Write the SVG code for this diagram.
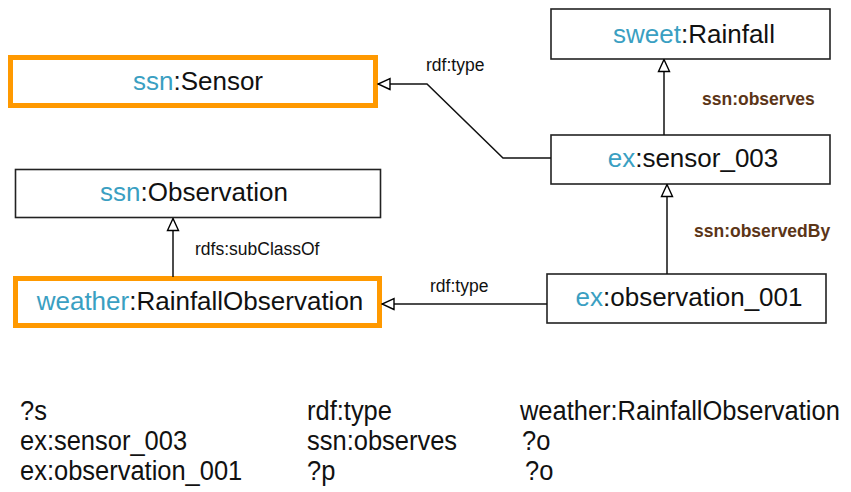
<svg xmlns="http://www.w3.org/2000/svg" width="851" height="492" viewBox="0 0 851 492">
  <defs>
    <marker id="hollow" markerUnits="userSpaceOnUse" markerWidth="14" markerHeight="14" viewBox="0 0 14 14" refX="13" refY="7" orient="auto">
      <path d="M1,1.5 L13,7 L1,12.5 Z" fill="#ffffff" stroke="#000000" stroke-width="1.4"/>
    </marker>
    <style>
      text { font-family: "Liberation Sans", Arial, sans-serif; }
      .box { fill: #ffffff; stroke: #222222; stroke-width: 1.6; }
      .hl { fill: #ffffff; stroke: #ff9900; stroke-width: 5; }
      .name { font-size: 26px; fill: #111111; text-anchor: middle; }
      .pfx { fill: #3a9fc2; }
      .edge { fill: none; stroke: #111111; stroke-width: 1.5; marker-end: url(#hollow); }
      .lbl { font-size: 17.5px; fill: #111111; }
      .prop { font-size: 17.5px; font-weight: bold; fill: #5c3517; }
      .q { font-size: 28px; fill: #111111; }
    </style>
  </defs>

  <!-- class and instance nodes -->
  <g id="ssn-sensor">
    <rect class="hl" x="10.5" y="57.5" width="365" height="48"/>
    <text class="name" x="198" y="90"><tspan class="pfx">ssn</tspan>:Sensor</text>
  </g>
  <g id="ssn-observation">
    <rect class="box" x="15.5" y="169.5" width="365" height="48"/>
    <text class="name" x="194" y="201"><tspan class="pfx">ssn</tspan>:Observation</text>
  </g>
  <g id="weather-rainfallobservation">
    <rect class="hl" x="15.5" y="278.5" width="364" height="47"/>
    <text class="name" x="200" y="310"><tspan class="pfx">weather</tspan>:RainfallObservation</text>
  </g>
  <g id="sweet-rainfall">
    <rect class="box" x="551" y="9" width="279" height="50"/>
    <text class="name" x="694" y="43"><tspan class="pfx">sweet</tspan>:Rainfall</text>
  </g>
  <g id="ex-sensor_003">
    <rect class="box" x="551" y="135" width="279" height="49"/>
    <text class="name" x="693" y="167"><tspan class="pfx">ex</tspan>:sensor_003</text>
  </g>
  <g id="ex-observation_001">
    <rect class="box" x="547" y="274" width="279" height="49"/>
    <text class="name" x="689" y="306"><tspan class="pfx">ex</tspan>:observation_001</text>
  </g>

  <!-- connectors -->
  <g id="connectors">
    <path class="edge" d="M551,158 L503,158 L427,84 L378,84"/>
    <text class="lbl" x="426" y="71">rdf:type</text>

    <path class="edge" d="M664,135 L664,59.5"/>
    <text class="prop" x="702" y="105">ssn:observes</text>

    <path class="edge" d="M667,274 L667,184.5"/>
    <text class="prop" x="694" y="237">ssn:observedBy</text>

    <path class="edge" d="M173,277 L173,218.5"/>
    <text class="lbl" x="195" y="255">rdfs:subClassOf</text>

    <path class="edge" d="M547,304 L382,304"/>
    <text class="lbl" x="430" y="292">rdf:type</text>
  </g>

  <!-- triple patterns, set in a condensed face -->
  <g id="triples" transform="scale(0.91 1)">
    <text class="q" x="22" y="420">?s</text>
    <text class="q" x="337.4" y="420">rdf:type</text>
    <text class="q" x="571.4" y="420">weather:RainfallObservation</text>
    <text class="q" x="22" y="450">ex:sensor_003</text>
    <text class="q" x="337.4" y="450">ssn:observes</text>
    <text class="q" x="573.6" y="450">?o</text>
    <text class="q" x="22" y="480">ex:observation_001</text>
    <text class="q" x="337.4" y="480">?p</text>
    <text class="q" x="576.9" y="480">?o</text>
  </g>
</svg>
